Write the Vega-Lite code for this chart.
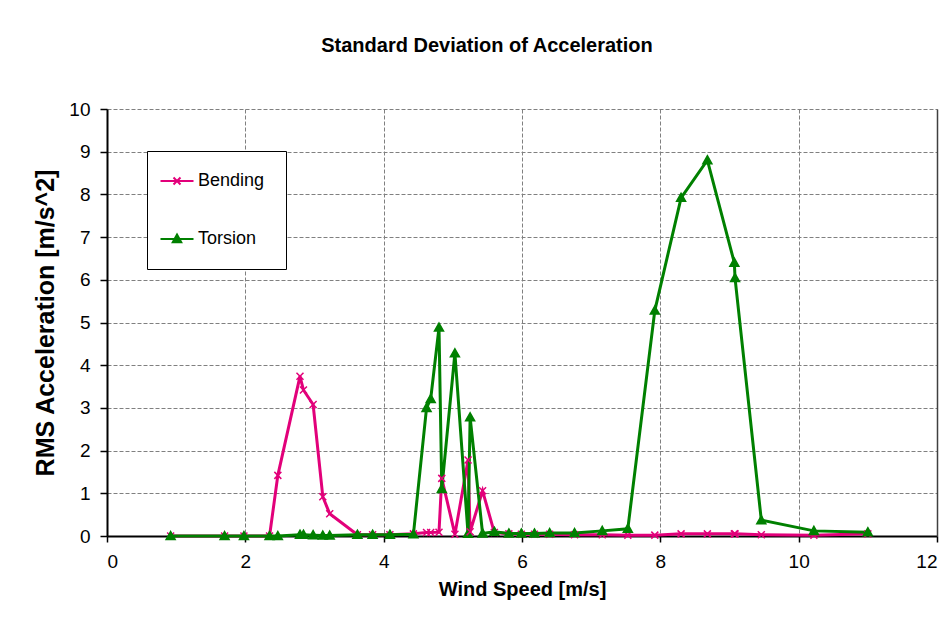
{
  "$schema": "https://vega.github.io/schema/vega-lite/v6.json",
  "width": 830,
  "height": 427,
  "autosize": "none",
  "padding": {"left": 107, "top": 109, "right": 12, "bottom": 103},
  "background": "white",
  "title": {"text": "Standard Deviation of Acceleration", "font": "Liberation Sans", "fontSize": 20, "fontWeight": "bold", "color": "black", "anchor": "middle", "frame": "group", "dx": -35, "offset": 44},
  "config": {"view": {"stroke": null}, "font": "Liberation Sans"},
  "data": {"values": [
    {"speed": 0.92, "series": "Bending", "rms": 0.0}, {"speed": 0.92, "series": "Torsion", "rms": 0.0},
    {"speed": 1.70, "series": "Bending", "rms": 0.0}, {"speed": 1.70, "series": "Torsion", "rms": 0.0},
    {"speed": 1.98, "series": "Bending", "rms": 0.0}, {"speed": 1.98, "series": "Torsion", "rms": 0.0},
    {"speed": 2.35, "series": "Bending", "rms": 0.0}, {"speed": 2.35, "series": "Torsion", "rms": 0.0},
    {"speed": 2.47, "series": "Bending", "rms": 1.42}, {"speed": 2.47, "series": "Torsion", "rms": 0.0},
    {"speed": 2.79, "series": "Bending", "rms": 3.74}, {"speed": 2.79, "series": "Torsion", "rms": 0.03},
    {"speed": 2.84, "series": "Bending", "rms": 3.42}, {"speed": 2.84, "series": "Torsion", "rms": 0.03},
    {"speed": 2.98, "series": "Bending", "rms": 3.08}, {"speed": 2.98, "series": "Torsion", "rms": 0.02},
    {"speed": 3.12, "series": "Bending", "rms": 0.92}, {"speed": 3.12, "series": "Torsion", "rms": 0.01},
    {"speed": 3.22, "series": "Bending", "rms": 0.52}, {"speed": 3.22, "series": "Torsion", "rms": 0.01},
    {"speed": 3.62, "series": "Bending", "rms": 0.03}, {"speed": 3.62, "series": "Torsion", "rms": 0.03},
    {"speed": 3.84, "series": "Bending", "rms": 0.03}, {"speed": 3.84, "series": "Torsion", "rms": 0.03},
    {"speed": 4.09, "series": "Bending", "rms": 0.03}, {"speed": 4.09, "series": "Torsion", "rms": 0.03},
    {"speed": 4.43, "series": "Bending", "rms": 0.05}, {"speed": 4.43, "series": "Torsion", "rms": 0.04},
    {"speed": 4.62, "series": "Bending", "rms": 0.08}, {"speed": 4.62, "series": "Torsion", "rms": 3.0},
    {"speed": 4.68, "series": "Bending", "rms": 0.08}, {"speed": 4.68, "series": "Torsion", "rms": 3.21},
    {"speed": 4.80, "series": "Bending", "rms": 0.09}, {"speed": 4.80, "series": "Torsion", "rms": 4.88},
    {"speed": 4.84, "series": "Bending", "rms": 1.35}, {"speed": 4.84, "series": "Torsion", "rms": 1.10},
    {"speed": 5.03, "series": "Bending", "rms": 0.04}, {"speed": 5.03, "series": "Torsion", "rms": 4.28},
    {"speed": 5.22, "series": "Bending", "rms": 1.78}, {"speed": 5.22, "series": "Torsion", "rms": 0.05},
    {"speed": 5.25, "series": "Bending", "rms": 0.1}, {"speed": 5.25, "series": "Torsion", "rms": 2.78},
    {"speed": 5.43, "series": "Bending", "rms": 1.06}, {"speed": 5.43, "series": "Torsion", "rms": 0.06},
    {"speed": 5.60, "series": "Bending", "rms": 0.08}, {"speed": 5.60, "series": "Torsion", "rms": 0.1},
    {"speed": 5.81, "series": "Bending", "rms": 0.05}, {"speed": 5.81, "series": "Torsion", "rms": 0.06},
    {"speed": 5.99, "series": "Bending", "rms": 0.04}, {"speed": 5.99, "series": "Torsion", "rms": 0.06},
    {"speed": 6.18, "series": "Bending", "rms": 0.04}, {"speed": 6.18, "series": "Torsion", "rms": 0.06},
    {"speed": 6.40, "series": "Bending", "rms": 0.04}, {"speed": 6.40, "series": "Torsion", "rms": 0.07},
    {"speed": 6.76, "series": "Bending", "rms": 0.03}, {"speed": 6.76, "series": "Torsion", "rms": 0.07},
    {"speed": 7.16, "series": "Bending", "rms": 0.03}, {"speed": 7.16, "series": "Torsion", "rms": 0.12},
    {"speed": 7.53, "series": "Bending", "rms": 0.02}, {"speed": 7.53, "series": "Torsion", "rms": 0.17},
    {"speed": 7.92, "series": "Bending", "rms": 0.02}, {"speed": 7.92, "series": "Torsion", "rms": 5.28},
    {"speed": 8.30, "series": "Bending", "rms": 0.05}, {"speed": 8.30, "series": "Torsion", "rms": 7.92},
    {"speed": 8.68, "series": "Bending", "rms": 0.05}, {"speed": 8.68, "series": "Torsion", "rms": 8.80},
    {"speed": 9.07, "series": "Bending", "rms": 0.05}, {"speed": 9.07, "series": "Torsion", "rms": 6.40},
    {"speed": 9.08, "series": "Bending", "rms": 0.05}, {"speed": 9.08, "series": "Torsion", "rms": 6.04},
    {"speed": 9.46, "series": "Bending", "rms": 0.03}, {"speed": 9.46, "series": "Torsion", "rms": 0.37},
    {"speed": 10.22, "series": "Bending", "rms": 0.02}, {"speed": 10.22, "series": "Torsion", "rms": 0.12},
    {"speed": 11.0, "series": "Bending", "rms": 0.05}, {"speed": 11.0, "series": "Torsion", "rms": 0.09}
  ]},
  "resolve": {"axis": {"y": "independent"}},
  "layer": [
    {
      "mark": {"type": "line", "strokeWidth": 3},
      "encoding": {
        "x": {"field": "speed", "type": "quantitative", "scale": {"domain": [0, 12], "nice": false, "zero": false},
          "axis": {"values": [0, 2, 4, 6, 8, 10, 12], "format": "d", "title": "Wind Speed [m/s]", "grid": true, "gridColor": "#808080", "gridDash": [4, 2], "gridWidth": 1,
            "domainColor": "black", "domainWidth": 2, "tickColor": "black", "tickWidth": 1.5, "tickSize": 6, "labelFont": "Liberation Sans", "labelFontSize": 19, "labelColor": "black", "labelPadding": 10,
            "titleFont": "Liberation Sans", "titleFontSize": 20, "titleFontWeight": "bold", "titleColor": "black", "titlePadding": 8}},
        "y": {"field": "rms", "type": "quantitative", "scale": {"domain": [0, 10], "nice": false},
          "axis": {"values": [0, 1, 2, 3, 4, 5, 6, 7, 8, 9, 10], "format": "d", "title": "RMS Acceleration  [m/s^2]", "grid": true, "gridColor": "#808080", "gridDash": [4, 2], "gridWidth": 1,
            "domainColor": "black", "domainWidth": 2, "tickColor": "black", "tickWidth": 1.5, "tickSize": 7, "labelFont": "Liberation Sans", "labelFontSize": 19, "labelColor": "black", "labelPadding": 10,
            "titleFont": "Liberation Sans", "titleFontSize": 25, "titleFontWeight": "bold", "titleColor": "black", "titlePadding": 10}},
        "color": {"field": "series", "type": "nominal", "scale": {"domain": ["Bending", "Torsion"], "range": ["#E2007A", "#008000"]},
          "legend": {"orient": "none", "legendX": 40, "legendY": 42, "title": null, "fillColor": "white", "strokeColor": "black", "padding": 21,
            "labelFont": "Liberation Sans", "labelFontSize": 18, "labelColor": "black", "symbolSize": 100, "symbolStrokeWidth": 2, "rowPadding": 40, "labelOffset": 12,
            "encode": {"symbols": {"update": {
              "shape": {"signal": "datum.value === 'Bending' ? 'M-3.3,0L3.3,0M-0.7,-0.7L0.7,0.7M-0.7,0.7L0.7,-0.7' : 'M-3.3,0L3.3,0M0,-0.9L0.85,0.65L-0.85,0.65Z'"},
              "fill": {"signal": "datum.value === 'Bending' ? 'transparent' : '#008000'"},
              "stroke": {"signal": "datum.value === 'Bending' ? '#E2007A' : '#008000'"},
              "strokeWidth": {"value": 2}, "opacity": {"value": 1}}}}}}
      }
    },
    {
      "mark": {"type": "point", "size": 100, "strokeWidth": 1.5, "opacity": 1},
      "encoding": {
        "x": {"field": "speed", "type": "quantitative"},
        "y": {"field": "rms", "type": "quantitative",
          "axis": {"orient": "right", "labels": false, "ticks": false, "grid": false, "title": null, "domainColor": "#404040", "domainWidth": 1.5}},
        "fill": {"condition": {"test": "datum.series === 'Bending'", "value": "#E2007A"}, "value": "#008000"},
        "stroke": {"condition": {"test": "datum.series === 'Bending'", "value": "#E2007A"}, "value": "#008000"},
        "shape": {"condition": {"test": "datum.series === 'Bending'", "value": "M-0.7,-0.7L0.7,0.7M-0.7,0.7L0.7,-0.7"}, "value": "M0,-0.9L0.9,0.7L-0.9,0.7Z"}
      }
    }
  ]
}
